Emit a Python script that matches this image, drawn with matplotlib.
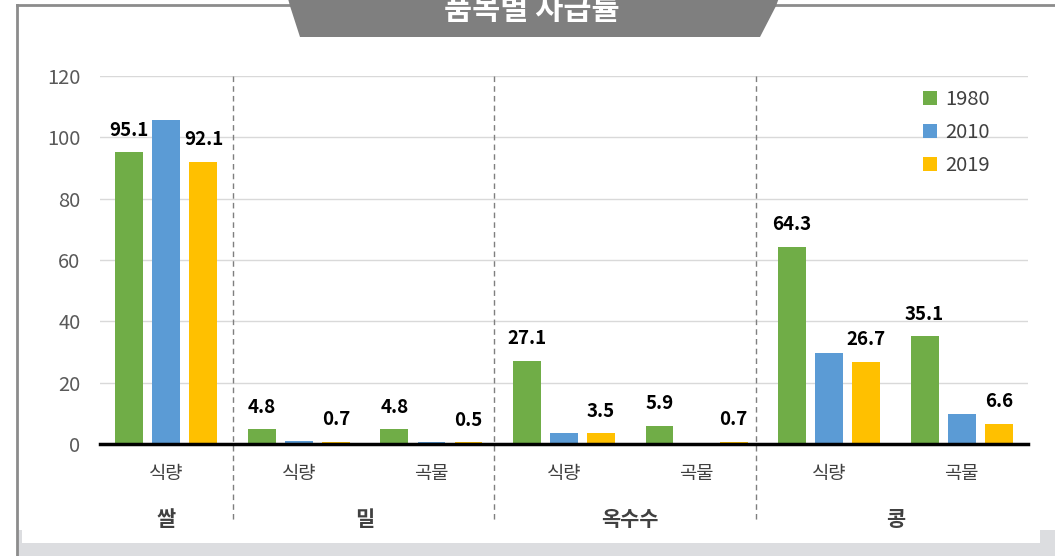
import numpy as np
import matplotlib
matplotlib.use("Agg")
import matplotlib.pyplot as plt
from matplotlib.patches import Polygon, Rectangle
from matplotlib.transforms import blended_transform_factory

plt.rcParams['font.family'] = ['Noto Sans CJK KR', 'DejaVu Sans']

# 데이터
title = '품목별 자급률'
items = ['식량', '식량', '곡물', '식량', '곡물', '식량', '곡물']
groups = ['쌀', '밀', '옥수수', '콩']
group_slots = [[0], [1, 2], [3, 4], [5, 6]]
years = ['1980', '2010', '2019']
v1980 = [95.1, 4.8, 4.8, 27.1, 5.9, 64.3, 35.1]
v2010 = [105.5, 1.1, 0.8, 3.7, 0.4, 29.6, 9.9]
v2019 = [92.1, 0.7, 0.5, 3.5, 0.7, 26.7, 6.6]
colors = ['#70ad47', '#5b9bd5', '#ffc000']

W, H = 1055, 556
fig = plt.figure(figsize=(W / 100, H / 100), dpi=100)

# 배경 장식 (픽셀 좌표)
bg = fig.add_axes([0, 0, 1, 1], zorder=0)
bg.set_xlim(0, W)
bg.set_ylim(H, 0)
bg.axis('off')
bg.add_patch(Rectangle((17, 530), W - 17, 26, color='#dcdde0', lw=0))
bg.add_patch(Rectangle((22, 529), 1018, 14, color='white', lw=0))
bg.plot([17, 17], [5, H], color='#8c8c8c', lw=2)
bg.plot([17, 290], [5, 5], color='#8c8c8c', lw=2)
bg.plot([775, W], [5, 5], color='#8c8c8c', lw=2)

# 본 차트
ax = fig.add_axes([100 / W, 1 - 444 / H, 928 / W, 368 / H], zorder=1)
ax.set_facecolor('none')
x = np.arange(len(items))
bw = 0.21
off = 0.28
for k, (vals, c) in enumerate(zip([v1980, v2010, v2019], colors)):
    ax.bar(x + (k - 1) * off, vals, bw, color=c, label=years[k], zorder=3)

for vals, k in [(v1980, 0), (v2019, 2)]:
    for xi, v in zip(x, vals):
        ax.annotate(f'{v}', (xi + (k - 1) * off, v), xytext=(0, 16),
                    textcoords='offset points', ha='center', va='center',
                    fontsize=13.5, fontweight='bold', color='black', zorder=4)

ax.set_xlim(-0.5, len(items) - 0.5)
ax.set_ylim(0, 120)
ax.set_yticks(range(0, 121, 20))
ax.yaxis.grid(True, color='#d9d9d9', lw=1, zorder=0)
ax.tick_params(axis='y', length=0, labelsize=14.5, labelcolor='#595959', pad=14)
ax.set_xticks(x)
ax.set_xticklabels(items)
ax.tick_params(axis='x', length=0, labelsize=13.5, labelcolor='#404040', pad=14)
for s in ['top', 'right', 'left']:
    ax.spines[s].set_visible(False)
ax.spines['bottom'].set_linewidth(2.5)
ax.spines['bottom'].set_color('black')
ax.spines['bottom'].set_zorder(5)

tr = blended_transform_factory(ax.transData, ax.transAxes)
for sx in [0.5, 2.47, 4.45]:
    ax.plot([sx, sx], [1.0, -0.212], transform=tr, clip_on=False,
            color='#7f7f7f', lw=1, ls=(0, (4, 3)), zorder=2)
for g, slots in zip(groups, group_slots):
    ax.text(np.mean(slots), -0.205, g, transform=tr, ha='center', va='center',
            fontsize=15, fontweight='bold', color='#404040')

leg = ax.legend(loc='upper right', bbox_to_anchor=(0.978, 1.015), frameon=False,
                fontsize=14.5, handlelength=0.7, handleheight=0.7,
                handletextpad=0.4, labelspacing=0.6)
for t in leg.get_texts():
    t.set_color('#404040')

# 제목 배너
top = fig.add_axes([0, 0, 1, 1], zorder=2)
top.set_xlim(0, W)
top.set_ylim(H, 0)
top.axis('off')
top.add_patch(Polygon([(287, -5), (780, -5), (776, 6), (760, 37), (300, 37), (290, 6)],
                      closed=True, color='#7f7f7f', lw=0))
top.text(532, 10, title, ha='center', va='center', fontsize=22,
         fontweight='bold', color='white')

fig.savefig('out.png', dpi=100)
